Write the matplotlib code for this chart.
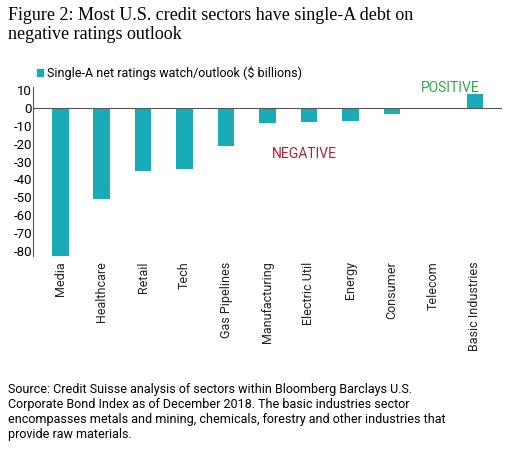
import matplotlib.pyplot as plt

sectors = ['Media', 'Healthcare', 'Retail', 'Tech', 'Gas Pipelines', 'Manufacturing',
           'Electric Util', 'Energy', 'Consumer', 'Telecom', 'Basic Industries']
values = [-83, -51, -35.5, -34, -21.5, -8.5, -8, -7.3, -3.3, 0, 7.7]
yticks = [10, 0, -10, -20, -30, -40, -50, -60, -70, -80]

plt.rcParams['font.family'] = ['Roboto', 'DejaVu Sans']
plt.rcParams['axes.unicode_minus'] = False

teal = '#1aabb8'
fig = plt.figure(figsize=(5.12, 4.57), dpi=100)
ax = fig.add_axes([0.065, 0.44, 0.915, 0.37])

ax.bar(range(len(sectors)), values, width=0.4, color=teal)
ax.axhline(0, color='#555555', lw=0.8)
ax.set_xlim(-0.65, len(sectors) - 0.35)
ax.set_ylim(-83, 12)
ax.set_yticks(yticks)
ax.set_xticks(range(len(sectors)))
ax.set_xticklabels(sectors, rotation=90, fontsize=9, color='#222222')
ax.tick_params(axis='y', labelsize=9.5, length=0, pad=1)
ax.tick_params(axis='x', length=0, pad=4)
for s in ['top', 'right', 'bottom']:
    ax.spines[s].set_visible(False)
ax.spines['left'].set_color('#555555')

ax.text(5.1, -28, 'NEGATIVE', color='#b22234', fontsize=10)
ax.text(8.7, 9, 'POSITIVE', color='#2aa84a', fontsize=10)

fig.text(0.015, 0.985, 'Figure 2: Most U.S. credit sectors have single-A debt on\nnegative ratings outlook',
         family='Liberation Serif', fontsize=13, va='top', linespacing=1.2)
fig.patches.append(plt.Rectangle((0.072, 0.833), 0.012, 0.016, color=teal, transform=fig.transFigure))
fig.text(0.092, 0.841, 'Single-A net ratings watch/outlook ($ billions)', fontsize=9, va='center')
fig.text(0.015, 0.035, 'Source: Credit Suisse analysis of sectors within Bloomberg Barclays U.S.\n'
         'Corporate Bond Index as of December 2018. The basic industries sector\n'
         'encompasses metals and mining, chemicals, forestry and other industries that\n'
         'provide raw materials.', fontsize=9, va='bottom', linespacing=1.2)

fig.savefig('out.png', dpi=100)
